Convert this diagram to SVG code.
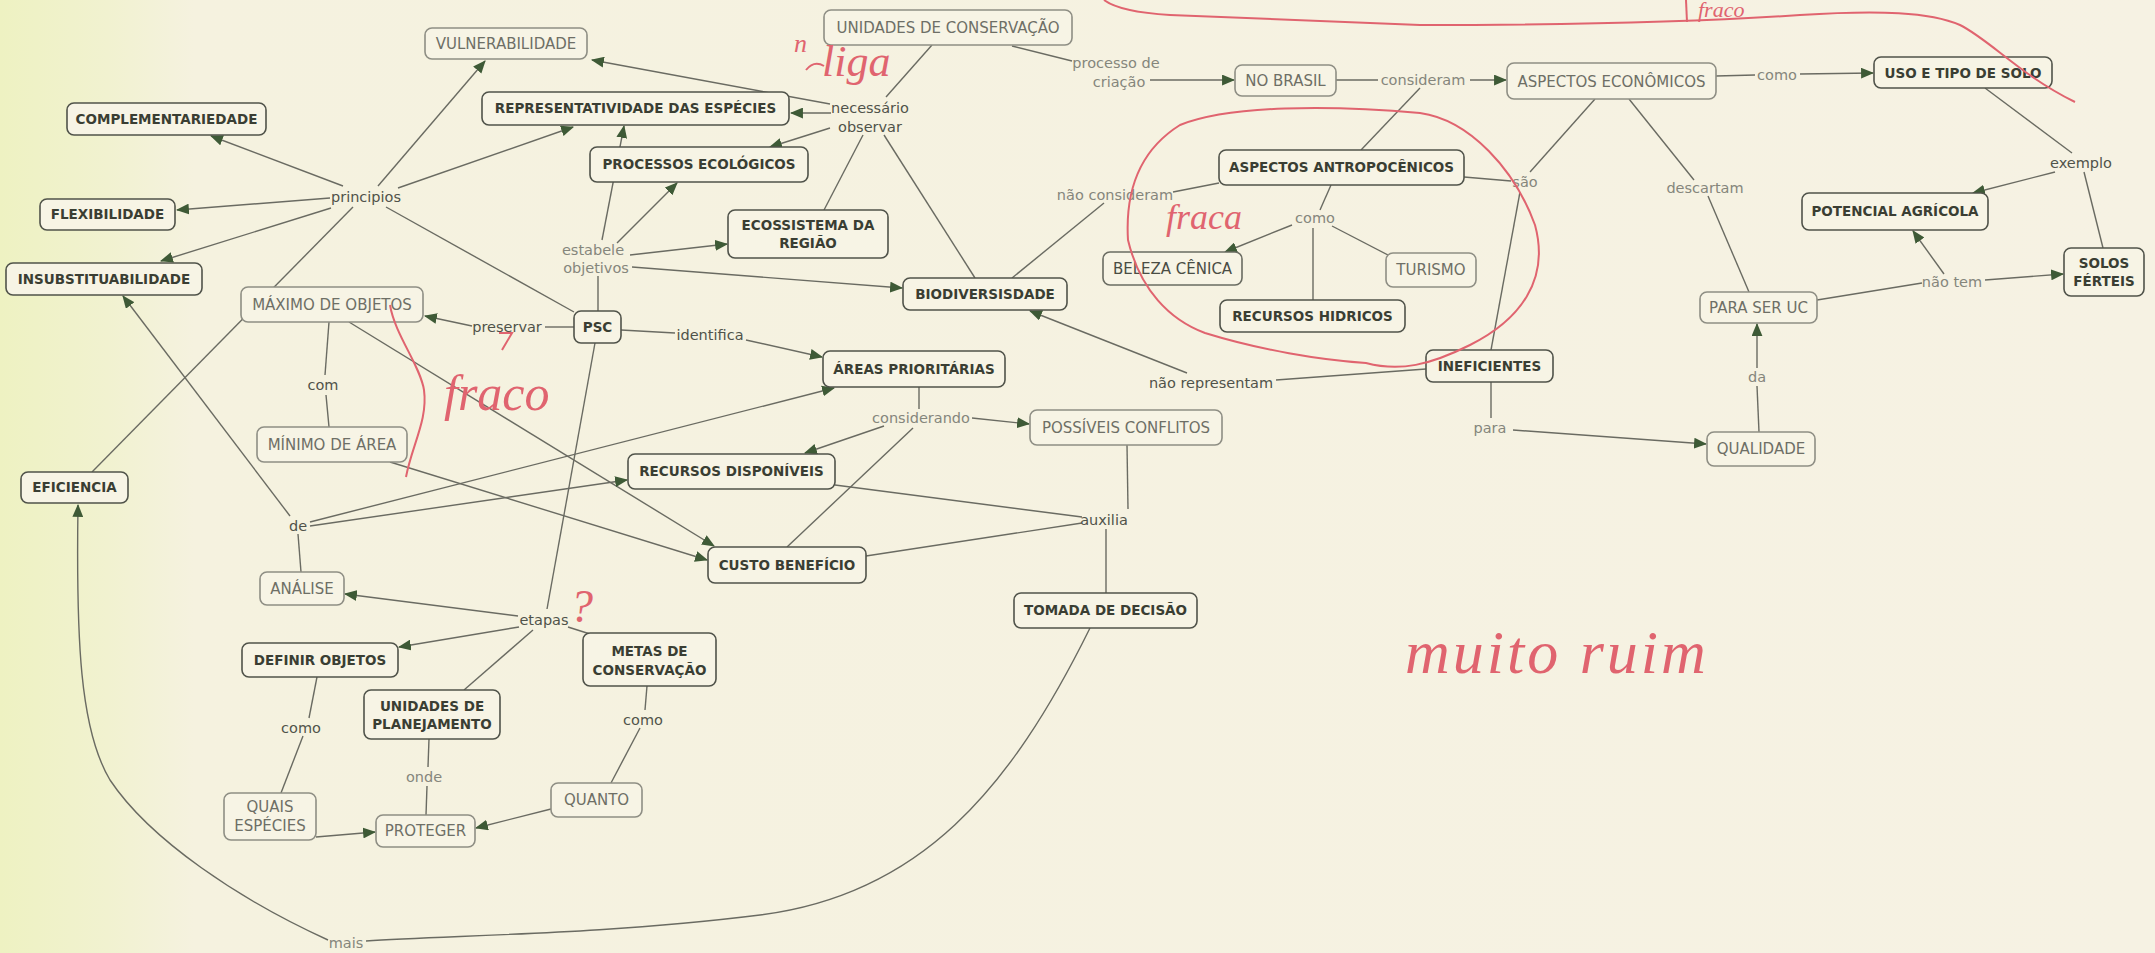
<svg xmlns="http://www.w3.org/2000/svg" width="2155" height="953" viewBox="0 0 2155 953">
<defs>
<linearGradient id="paper" x1="0" y1="0" x2="1" y2="0">
<stop offset="0" stop-color="#eef2c2"/>
<stop offset="0.05" stop-color="#f1f2d0"/>
<stop offset="0.09" stop-color="#f5f2df"/>
<stop offset="1" stop-color="#f6f2e3"/>
</linearGradient>
<marker id="ah" viewBox="0 0 12 10" refX="11" refY="5" markerWidth="13" markerHeight="11" orient="auto" markerUnits="userSpaceOnUse">
<path d="M0,0 L12,5 L0,10 z" fill="#3e5a36"/>
</marker>
<style>
.node rect { fill:#f7f4e5; stroke-width:1.6; }
.dark rect { stroke:#50534a; }
.dark text { fill:#3a3e33; font-family:"DejaVu Sans", sans-serif; font-size:13.5px; font-weight:bold; text-anchor:middle; }
.mid rect { stroke:#6a6c62; }
.mid text { fill:#4a4d44; font-family:"DejaVu Sans", sans-serif; font-size:15px; text-anchor:middle; }
.light rect { stroke:#8e8e84; }
.light text { fill:#6e6f66; font-family:"DejaVu Sans", sans-serif; font-size:15px; text-anchor:middle; }
.lp { font-family:"DejaVu Sans", sans-serif; font-size:14.5px; fill:#50534a; text-anchor:middle; }
.lp2 { font-family:"DejaVu Sans", sans-serif; font-size:14.5px; fill:#85867c; text-anchor:middle; }
.c { stroke:#6a6b62; stroke-width:1.4; fill:none; }
.a { marker-end:url(#ah); }
.red { stroke:#e0646f; stroke-width:2; fill:none; }
.rt { fill:#e0646f; font-family:"Liberation Serif", serif; font-style:italic; }
</style>
</defs>
<rect x="0" y="0" width="2155" height="953" fill="url(#paper)"/>

<g id="connectors">
<line class="c a" x1="378" y1="186" x2="485" y2="61"/>
<line class="c a" x1="398" y1="188" x2="573" y2="127"/>
<line class="c a" x1="343" y1="186" x2="211" y2="136"/>
<line class="c a" x1="330" y1="198" x2="177" y2="210"/>
<line class="c a" x1="331" y1="208" x2="161" y2="261"/>
<line class="c" x1="353" y1="207" x2="92" y2="472"/>
<line class="c" x1="386" y1="207" x2="574" y2="312"/>
<line class="c" x1="932" y1="45" x2="886" y2="97"/>
<line class="c a" x1="830" y1="104" x2="592" y2="60"/>
<line class="c a" x1="831" y1="113" x2="791" y2="113"/>
<line class="c a" x1="830" y1="128" x2="770" y2="147"/>
<line class="c" x1="863" y1="135" x2="824" y2="210"/>
<line class="c" x1="884" y1="135" x2="975" y2="278"/>
<line class="c" x1="1012" y1="46" x2="1072" y2="61"/>
<line class="c a" x1="1150" y1="80" x2="1234" y2="80"/>
<line class="c" x1="1336" y1="80" x2="1378" y2="80"/>
<line class="c a" x1="1470" y1="80" x2="1506" y2="80"/>
<line class="c" x1="1420" y1="88" x2="1361" y2="150"/>
<line class="c" x1="1716" y1="76" x2="1755" y2="75"/>
<line class="c a" x1="1800" y1="74" x2="1873" y2="73"/>
<line class="c" x1="1985" y1="88" x2="2072" y2="153"/>
<line class="c a" x1="2055" y1="172" x2="1973" y2="193"/>
<line class="c" x1="2084" y1="172" x2="2103" y2="248"/>
<line class="c" x1="1595" y1="99" x2="1530" y2="172"/>
<line class="c" x1="1464" y1="177" x2="1511" y2="181"/>
<line class="c" x1="1520" y1="192" x2="1491" y2="350"/>
<line class="c" x1="1629" y1="99" x2="1694" y2="180"/>
<line class="c" x1="1708" y1="196" x2="1749" y2="292"/>
<line class="c" x1="1817" y1="300" x2="1922" y2="283"/>
<line class="c a" x1="1985" y1="280" x2="2063" y2="274"/>
<line class="c a" x1="1944" y1="274" x2="1913" y2="231"/>
<line class="c" x1="1759" y1="432" x2="1757" y2="386"/>
<line class="c a" x1="1757" y1="368" x2="1757" y2="324"/>
<line class="c" x1="1491" y1="382" x2="1491" y2="418"/>
<line class="c a" x1="1513" y1="430" x2="1706" y2="444"/>
<line class="c" x1="1426" y1="369" x2="1276" y2="380"/>
<line class="c a" x1="1187" y1="373" x2="1030" y2="311"/>
<line class="c" x1="1219" y1="183" x2="1173" y2="192"/>
<line class="c" x1="1104" y1="203" x2="1012" y2="278"/>
<line class="c" x1="1331" y1="185" x2="1320" y2="210"/>
<line class="c a" x1="1292" y1="225" x2="1225" y2="252"/>
<line class="c" x1="1332" y1="226" x2="1390" y2="256"/>
<line class="c" x1="1313" y1="228" x2="1313" y2="300"/>
<line class="c" x1="598" y1="311" x2="598" y2="276"/>
<line class="c a" x1="602" y1="240" x2="624" y2="126"/>
<line class="c a" x1="617" y1="243" x2="677" y2="183"/>
<line class="c a" x1="630" y1="255" x2="727" y2="244"/>
<line class="c a" x1="632" y1="267" x2="902" y2="288"/>
<line class="c" x1="574" y1="327" x2="545" y2="327"/>
<line class="c a" x1="472" y1="326" x2="425" y2="316"/>
<line class="c" x1="621" y1="330" x2="675" y2="333"/>
<line class="c a" x1="746" y1="340" x2="822" y2="357"/>
<line class="c" x1="595" y1="343" x2="547" y2="609"/>
<line class="c" x1="329" y1="322" x2="325" y2="375"/>
<line class="c" x1="326" y1="395" x2="329" y2="427"/>
<line class="c a" x1="349" y1="322" x2="714" y2="546"/>
<line class="c a" x1="390" y1="462" x2="707" y2="560"/>
<line class="c a" x1="290" y1="516" x2="123" y2="296"/>
<line class="c a" x1="310" y1="522" x2="834" y2="388"/>
<line class="c a" x1="310" y1="526" x2="627" y2="480"/>
<line class="c" x1="298" y1="534" x2="301" y2="572"/>
<line class="c" x1="919" y1="387" x2="919" y2="409"/>
<line class="c" x1="913" y1="428" x2="787" y2="547"/>
<line class="c a" x1="972" y1="418" x2="1029" y2="424"/>
<line class="c a" x1="884" y1="426" x2="805" y2="453"/>
<line class="c" x1="835" y1="485" x2="1082" y2="517"/>
<line class="c" x1="866" y1="556" x2="1082" y2="523"/>
<line class="c" x1="1127" y1="445" x2="1128" y2="509"/>
<line class="c" x1="1106" y1="529" x2="1106" y2="593"/>
<path class="c" d="M1090,628 C1010,790 920,895 760,915 C600,935 450,935 366,941"/>
<path class="c a" d="M328,940 C240,900 150,840 110,780 C80,730 76,640 78,505"/>
<line class="c a" x1="518" y1="616" x2="345" y2="594"/>
<line class="c a" x1="519" y1="627" x2="399" y2="647"/>
<line class="c" x1="533" y1="630" x2="464" y2="690"/>
<line class="c" x1="568" y1="627" x2="590" y2="634"/>
<line class="c" x1="317" y1="677" x2="309" y2="718"/>
<line class="c" x1="303" y1="736" x2="281" y2="793"/>
<line class="c" x1="429" y1="739" x2="428" y2="767"/>
<line class="c" x1="427" y1="786" x2="426" y2="815"/>
<line class="c" x1="647" y1="686" x2="645" y2="710"/>
<line class="c" x1="640" y1="728" x2="611" y2="783"/>
<line class="c a" x1="316" y1="837" x2="375" y2="832"/>
<line class="c a" x1="551" y1="809" x2="476" y2="828"/>
</g>

<g id="linking-phrases">
<text class="lp" x="366" y="202">principios</text>
<text class="lp" x="870" y="113">necessário</text>
<text class="lp" x="870" y="132">observar</text>
<text class="lp2" x="1116" y="68">processo de</text>
<text class="lp2" x="1119" y="87">criação</text>
<text class="lp2" x="1423" y="85">consideram</text>
<text class="lp2" x="1777" y="80">como</text>
<text class="lp2" x="1115" y="200">não consideram</text>
<text class="lp2" x="1315" y="223">como</text>
<text class="lp2" x="1525" y="187">são</text>
<text class="lp2" x="1705" y="193">descartam</text>
<text class="lp" x="2081" y="168">exemplo</text>
<text class="lp2" x="1952" y="287">não tem</text>
<text class="lp2" x="593" y="255">estabele</text>
<text class="lp2" x="596" y="273">objetivos</text>
<text class="lp" x="507" y="332">preservar</text>
<text class="lp" x="710" y="340">identifica</text>
<text class="lp" x="323" y="390">com</text>
<text class="lp2" x="921" y="423">considerando</text>
<text class="lp" x="1211" y="388">não representam</text>
<text class="lp2" x="1490" y="433">para</text>
<text class="lp2" x="1757" y="382">da</text>
<text class="lp" x="298" y="531">de</text>
<text class="lp" x="1104" y="525">auxilia</text>
<text class="lp" x="544" y="625">etapas</text>
<text class="lp" x="301" y="733">como</text>
<text class="lp2" x="424" y="782">onde</text>
<text class="lp" x="643" y="725">como</text>
<text class="lp2" x="346" y="948">mais</text>
</g>

<g id="n-vulnerabilidade" class="node light"><rect x="425" y="28" width="162" height="31" rx="7"/><text x="506" y="49">VULNERABILIDADE</text></g>
<g id="n-unidades-conservacao" class="node light"><rect x="824" y="10" width="248" height="35" rx="7"/><text x="948" y="33">UNIDADES DE CONSERVAÇÃO</text></g>
<g id="n-representatividade" class="node dark"><rect x="482" y="92" width="307" height="33" rx="7"/><text x="635.5" y="113">REPRESENTATIVIDADE DAS ESPÉCIES</text></g>
<g id="n-complementariedade" class="node dark"><rect x="67" y="103" width="199" height="32" rx="7"/><text x="166.5" y="124">COMPLEMENTARIEDADE</text></g>
<g id="n-processos" class="node dark"><rect x="590" y="147" width="218" height="35" rx="7"/><text x="699" y="169">PROCESSOS ECOLÓGICOS</text></g>
<g id="n-flexibilidade" class="node dark"><rect x="40" y="199" width="135" height="31" rx="7"/><text x="107.5" y="219">FLEXIBILIDADE</text></g>
<g id="n-ecossistema" class="node dark"><rect x="728" y="210" width="160" height="48" rx="7"/><text x="808" y="230">ECOSSISTEMA DA</text><text x="808" y="248">REGIÃO</text></g>
<g id="n-insubstituabilidade" class="node dark"><rect x="6" y="263" width="196" height="32" rx="7"/><text x="104" y="284">INSUBSTITUABILIDADE</text></g>
<g id="n-maximo" class="node light"><rect x="241" y="287" width="182" height="35" rx="7"/><text x="332" y="310">MÁXIMO DE OBJETOS</text></g>
<g id="n-psc" class="node dark"><rect x="574" y="311" width="47" height="32" rx="7"/><text x="597.5" y="332">PSC</text></g>
<g id="n-biodiversidade" class="node dark"><rect x="903" y="278" width="164" height="32" rx="7"/><text x="985" y="299">BIODIVERSISDADE</text></g>
<g id="n-areas" class="node dark"><rect x="823" y="351" width="182" height="36" rx="7"/><text x="914" y="374">ÁREAS PRIORITÁRIAS</text></g>
<g id="n-minimo" class="node light"><rect x="257" y="427" width="150" height="35" rx="7"/><text x="332" y="450">MÍNIMO DE ÁREA</text></g>
<g id="n-possiveis" class="node light"><rect x="1030" y="410" width="192" height="35" rx="7"/><text x="1126" y="433">POSSÍVEIS CONFLITOS</text></g>
<g id="n-eficiencia" class="node dark"><rect x="21" y="472" width="107" height="31" rx="7"/><text x="74.5" y="492">EFICIENCIA</text></g>
<g id="n-recursos-disponiveis" class="node dark"><rect x="628" y="454" width="207" height="35" rx="7"/><text x="731.5" y="476">RECURSOS DISPONÍVEIS</text></g>
<g id="n-custo" class="node dark"><rect x="708" y="547" width="158" height="36" rx="7"/><text x="787" y="570">CUSTO BENEFÍCIO</text></g>
<g id="n-analise" class="node light"><rect x="260" y="572" width="84" height="33" rx="7"/><text x="302" y="594">ANÁLISE</text></g>
<g id="n-tomada" class="node dark"><rect x="1014" y="593" width="183" height="35" rx="7"/><text x="1105.5" y="615">TOMADA DE DECISÃO</text></g>
<g id="n-definir" class="node dark"><rect x="242" y="643" width="156" height="34" rx="7"/><text x="320" y="665">DEFINIR OBJETOS</text></g>
<g id="n-metas" class="node dark"><rect x="583" y="633" width="133" height="53" rx="7"/><text x="649.5" y="656">METAS DE</text><text x="649.5" y="675">CONSERVAÇÃO</text></g>
<g id="n-unidades-planejamento" class="node dark"><rect x="364" y="690" width="136" height="49" rx="7"/><text x="432" y="711">UNIDADES DE</text><text x="432" y="729">PLANEJAMENTO</text></g>
<g id="n-quais" class="node light"><rect x="224" y="793" width="92" height="47" rx="7"/><text x="270" y="812">QUAIS</text><text x="270" y="831">ESPÉCIES</text></g>
<g id="n-proteger" class="node light"><rect x="376" y="815" width="99" height="32" rx="7"/><text x="425.5" y="836">PROTEGER</text></g>
<g id="n-quanto" class="node light"><rect x="551" y="783" width="91" height="34" rx="7"/><text x="596.5" y="805">QUANTO</text></g>
<g id="n-no-brasil" class="node light"><rect x="1235" y="65" width="101" height="31" rx="7"/><text x="1285.5" y="86">NO BRASIL</text></g>
<g id="n-aspectos-economicos" class="node light"><rect x="1507" y="63" width="209" height="36" rx="7"/><text x="1611.5" y="86.5">ASPECTOS ECONÔMICOS</text></g>
<g id="n-uso-solo" class="node dark"><rect x="1874" y="57" width="178" height="31" rx="7"/><text x="1963" y="77.5">USO E TIPO DE SOLO</text></g>
<g id="n-antropocenicos" class="node dark"><rect x="1219" y="150" width="245" height="35" rx="7"/><text x="1341.5" y="172">ASPECTOS ANTROPOCÊNICOS</text></g>
<g id="n-potencial" class="node dark"><rect x="1802" y="193" width="186" height="37" rx="7"/><text x="1895" y="216">POTENCIAL AGRÍCOLA</text></g>
<g id="n-beleza" class="node mid"><rect x="1103" y="252" width="139" height="33" rx="7"/><text x="1172.5" y="274">BELEZA CÊNICA</text></g>
<g id="n-turismo" class="node light"><rect x="1386" y="253" width="90" height="34" rx="7"/><text x="1431" y="275">TURISMO</text></g>
<g id="n-recursos-hidricos" class="node dark"><rect x="1220" y="300" width="185" height="32" rx="7"/><text x="1312.5" y="321">RECURSOS HIDRICOS</text></g>
<g id="n-solos" class="node dark"><rect x="2064" y="248" width="80" height="48" rx="7"/><text x="2104" y="268">SOLOS</text><text x="2104" y="286">FÉRTEIS</text></g>
<g id="n-para-ser-uc" class="node light"><rect x="1700" y="292" width="117" height="31" rx="7"/><text x="1758.5" y="313">PARA SER UC</text></g>
<g id="n-ineficientes" class="node dark"><rect x="1426" y="350" width="127" height="32" rx="7"/><text x="1489.5" y="371">INEFICIENTES</text></g>
<g id="n-qualidade" class="node light"><rect x="1707" y="432" width="108" height="34" rx="7"/><text x="1761" y="454">QUALIDADE</text></g>

<g id="annotations">
<path class="red" d="M1104,0 Q1120,12 1170,15 L1420,25 C1550,25 1700,22 1800,15 C1880,10 1930,12 1960,25 C1990,40 2020,75 2075,102"/>
<path class="red" d="M1686,0 L1687,22"/>
<text class="rt" x="1698" y="17" font-size="22">fraco</text>
<text class="rt" x="794" y="52" font-size="26">n</text>
<path class="red" d="M806,70 Q814,60 824,66"/>
<text class="rt" x="822" y="76" font-size="44">liga</text>
<path class="red" d="M1420,113 C1470,120 1515,170 1535,225 C1550,280 1520,320 1470,345 C1430,365 1400,372 1366,363 C1320,360 1260,350 1205,333 C1170,320 1140,290 1128,240 C1125,190 1140,150 1180,125 C1230,105 1330,105 1420,113 Z"/>
<text class="rt" x="1166" y="229" font-size="36">fraca</text>
<path class="red" d="M390,305 C395,335 420,365 424,390 C428,420 412,445 406,477"/>
<path class="red" d="M499,333 L512,333 L502,350"/>
<text class="rt" x="444" y="410" font-size="50">fraco</text>
<text class="rt" x="570" y="622" font-size="46">?</text>
<text class="rt" x="1405" y="673" font-size="62" letter-spacing="3">muito ruim</text>
</g>
</svg>
